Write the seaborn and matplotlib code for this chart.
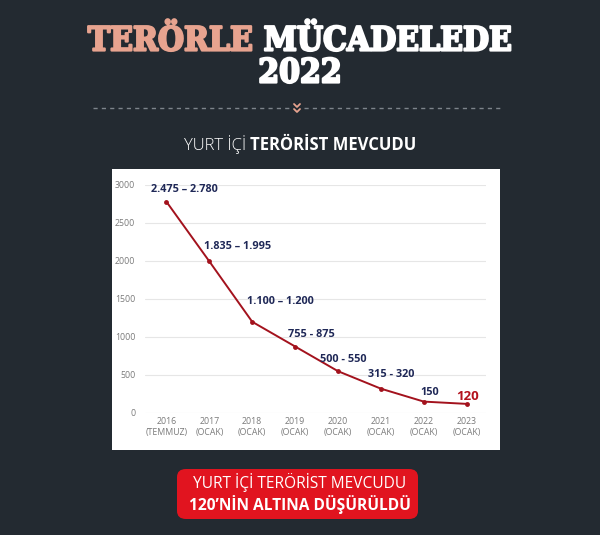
import pandas as pd
import matplotlib.pyplot as plt
import seaborn as sns
import matplotlib.patheffects as pe
from matplotlib.patches import FancyBboxPatch, Rectangle
from matplotlib.lines import Line2D

# --- veriler ---
donemler = ["2016\n(TEMMUZ)", "2017\n(OCAK)", "2018\n(OCAK)", "2019\n(OCAK)",
            "2020\n(OCAK)", "2021\n(OCAK)", "2022\n(OCAK)", "2023\n(OCAK)"]
mevcut = [2780, 1995, 1200, 875, 550, 320, 150, 120]
etiketler = ["2.475 – 2.780", "1.835 – 1.995", "1.100 – 1.200", "755 - 875",
             "500 - 550", "315 - 320", "150", "120"]
# etiket kaydırmaları (piksel)
etiket_dx = [18, 28, 28, 16, 5, 10, 6, 1]
etiket_dy = [12, 15, 20, 12, 12, 14, 9, 7]

df = pd.DataFrame({"donem": donemler, "mevcut": mevcut})

sns.set_theme(style="whitegrid")
plt.rcParams['font.family'] = ['Open Sans', 'DejaVu Sans']

W, H = 600, 535
BG = "#232a31"
SALMON = "#e7a38f"
fig = plt.figure(figsize=(W / 100, H / 100), dpi=100, facecolor=BG)

def fx(px):
    return px / W

def fy(py):
    return 1 - py / H

# --- başlık ---
renderer = fig.canvas.get_renderer()
baslik_font = dict(fontsize=24, fontweight='bold', family=['DejaVu Serif'],
                   fontstretch='condensed', va='center')
t1 = fig.text(0, fy(41), "TERÖRLE ", color=SALMON, ha='left', **baslik_font)
t2 = fig.text(0, fy(41), "MÜCADELEDE", color='white', ha='left', **baslik_font)
t1.set_path_effects([pe.withStroke(linewidth=1.6, foreground=SALMON)])
t2.set_path_effects([pe.withStroke(linewidth=1.6, foreground='white')])
w1 = t1.get_window_extent(renderer).width
w2 = t2.get_window_extent(renderer).width
x0 = (W - (w1 + w2)) / 2
t1.set_x(fx(x0))
t2.set_x(fx(x0 + w1))
t3 = fig.text(0.5, fy(73), "2022", color='white', ha='center', **baslik_font)
t3.set_path_effects([pe.withStroke(linewidth=1.6, foreground='white')])

# kesikli çizgi ve ok
fig.add_artist(Line2D([fx(93), fx(290)], [fy(108), fy(108)], color="#7d848b",
                      lw=1, linestyle=(0, (3, 3))))
fig.add_artist(Line2D([fx(304), fx(500)], [fy(108), fy(108)], color="#7d848b",
                      lw=1, linestyle=(0, (3, 3))))
for yy in (104, 109):
    fig.add_artist(Line2D([fx(294), fx(297), fx(300)], [fy(yy), fy(yy + 3), fy(yy)],
                          color=SALMON, lw=1.3))

# alt başlık
s1 = fig.text(0, fy(145), "YURT İÇİ ", color='white', fontsize=12, fontweight='light',
              va='center', ha='left')
s2 = fig.text(0, fy(145), "TERÖRİST MEVCUDU", color='white', fontsize=12,
              fontweight='bold', va='center', ha='left')
v1 = s1.get_window_extent(renderer).width
v2 = s2.get_window_extent(renderer).width
x0 = (W - (v1 + v2)) / 2
s1.set_x(fx(x0))
s2.set_x(fx(x0 + v1))

# beyaz grafik paneli
fig.add_artist(Rectangle((fx(112), fy(450)), fx(500) - fx(112), fy(169) - fy(450),
                         transform=fig.transFigure, facecolor='white',
                         edgecolor='none', zorder=0))

ax = fig.add_axes([fx(145), fy(413), fx(486) - fx(145), fy(185) - fy(413)])
ax.set_facecolor('white')
sns.lineplot(data=df, x="donem", y="mevcut", ax=ax, color="#a3121d", lw=1.4,
             marker='o', markersize=3.5, markeredgewidth=0, sort=False)
ax.set_ylim(0, 3000)
ax.set_xlim(-0.5, 7.45)
ax.set_yticks([0, 500, 1000, 1500, 2000, 2500, 3000])
ax.grid(axis='x', visible=False)
ax.grid(axis='y', color="#e6e6e6", lw=0.8)
for sp in ax.spines.values():
    sp.set_visible(False)
ax.set_xlabel("")
ax.set_ylabel("")
ax.tick_params(axis='both', length=0, labelsize=6.3, colors="#7a7a7a")
ax.tick_params(axis='y', pad=7)
ax.tick_params(axis='x', pad=3)

for i, (val, lab) in enumerate(zip(mevcut, etiketler)):
    son = i == len(mevcut) - 1
    ax.annotate(lab, (i, val), xytext=(etiket_dx[i], etiket_dy[i]),
                textcoords='offset pixels', ha='center', va='center',
                fontsize=9.5 if son else 7.8, fontweight='bold',
                color="#b3121d" if son else "#1f2857")

# kırmızı kutu
fig.add_artist(FancyBboxPatch((fx(177), fy(519)), fx(418) - fx(177), fy(469) - fy(519),
                              boxstyle="round,pad=0,rounding_size=0.015",
                              transform=fig.transFigure, facecolor="#e1141f",
                              edgecolor='none'))
fig.text(0.5, fy(483), "YURT İÇİ TERÖRİST MEVCUDU", color='white', fontsize=11.2,
         ha='center', va='center')
fig.text(0.5, fy(505), "120’NİN ALTINA DÜŞÜRÜLDÜ", color='white', fontsize=11.2,
         fontweight='bold', ha='center', va='center')

fig.savefig("out.png", dpi=100, facecolor=BG)
